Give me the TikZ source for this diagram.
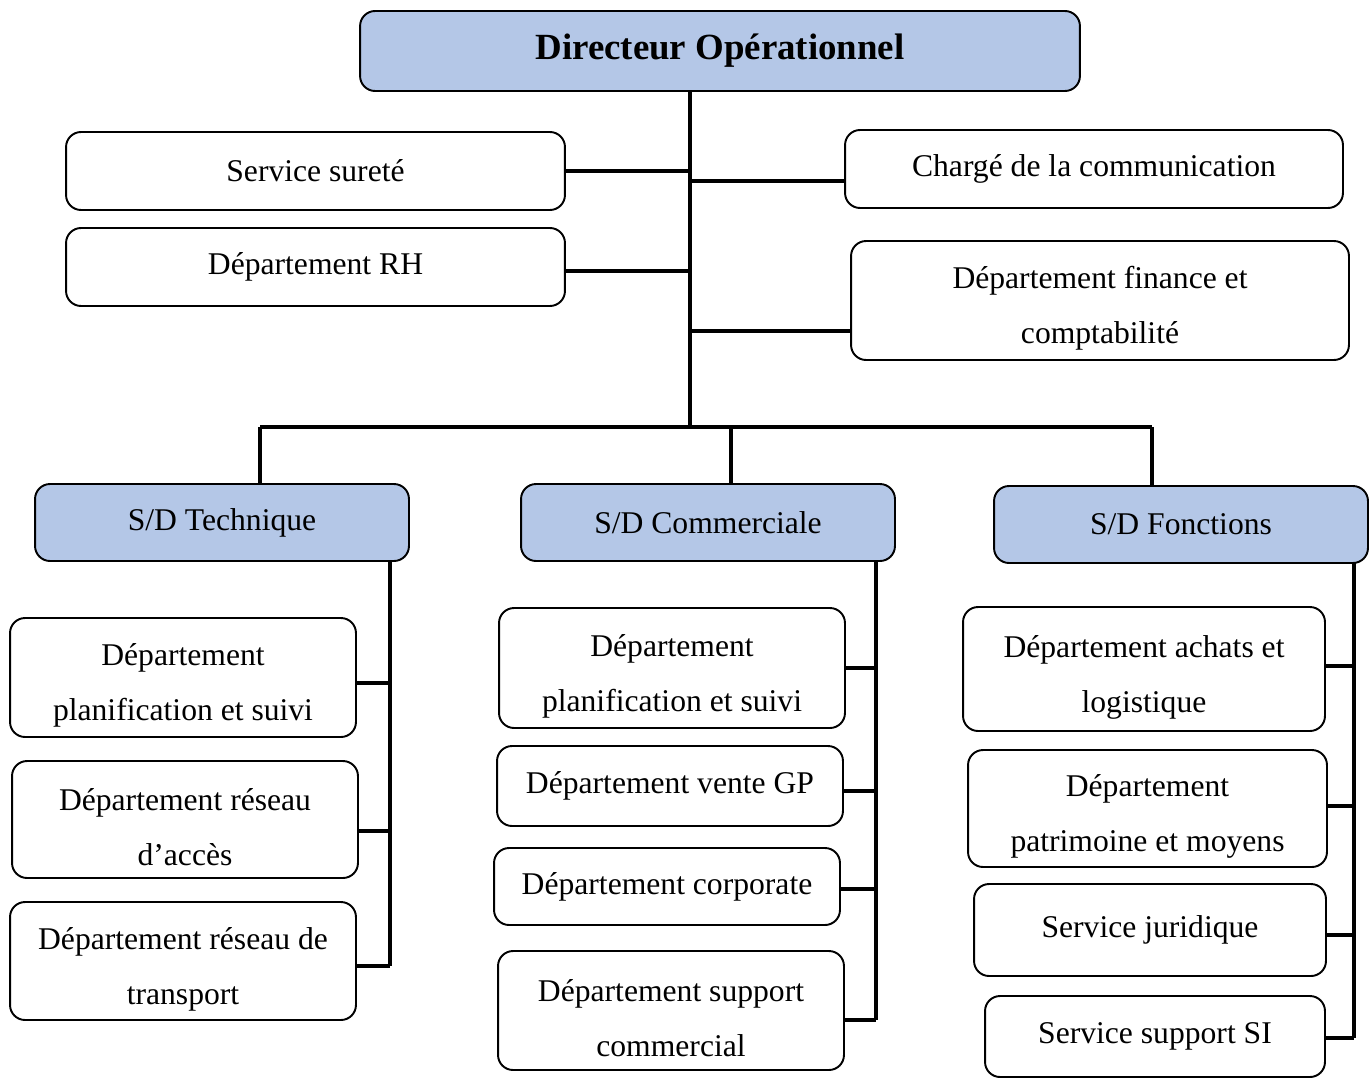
\documentclass[tikz,border=0pt]{standalone}
\usepackage{fontspec}
\setmainfont{Liberation Serif}
\definecolor{HeadBlue}{RGB}{180,199,231}
\tikzset{
  box/.style={draw, line width=1.1pt, rounded corners=0.3cm, inner sep=0pt, align=center,
    font=\fontsize{18}{31.3}\selectfont},
  twoline/.style={box, text height=1.86cm},
  headbox/.style={box, fill=HeadBlue},
  conn/.style={line width=2.2pt}
}

\begin{document}
\begin{tikzpicture}[x=0.02cm, y=-0.02cm]
  \useasboundingbox (0,0) rectangle (1372,1079);
  % direction
  \node[headbox, minimum width=14.4cm, minimum height=1.6cm, font=\fontsize{21}{25}\selectfont\bfseries] (dir) at (720,51) {Directeur Opérationnel};
  \node[box, minimum width=9.98cm, minimum height=1.56cm] (sur) at (315.5,171) {Service sureté};
  \node[box, minimum width=9.98cm, minimum height=1.56cm] (rh) at (315.5,267) {Département RH};
  \node[box, minimum width=9.96cm, minimum height=1.56cm] (com) at (1094,169) {Chargé de la communication};
  \node[twoline, minimum width=9.96cm, minimum height=2.38cm] (fin) at (1100,300.5) {Département finance et\\comptabilité};
  \coordinate (trunk) at (690,91);
  \coordinate (bus) at (690,427);
  \draw[conn] (trunk) -- (bus);
  \draw[conn] (sur.east) -- (sur.east -| trunk);
  \draw[conn] ([yshift=-0.08cm]rh.east) -- ([yshift=-0.08cm]rh.east -| trunk);
  \draw[conn] ([yshift=-0.24cm]com.west) -- ([yshift=-0.24cm]com.west -| trunk);
  \draw[conn] ([yshift=-0.61cm]fin.west) -- ([yshift=-0.61cm]fin.west -| trunk);

  % sous-directions
  \node[headbox, minimum width=7.48cm, minimum height=1.54cm] (tech) at (222,522.5) {S/D Technique};
  \node[headbox, minimum width=7.48cm, minimum height=1.54cm] (comm) at (708,522.5) {S/D Commerciale};
  \node[headbox, minimum width=7.48cm, minimum height=1.54cm] (fct) at (1181,524.5) {S/D Fonctions};
  \coordinate (busT) at (260,427);
  \coordinate (busC) at (731,427);
  \coordinate (busF) at (1152,427);
  \draw[conn] (busT) -- (busF);
  \draw[conn] (busT) -- (busT |- tech.north);
  \draw[conn] (busC) -- (busC |- comm.north);
  \draw[conn] (busF) -- (busF |- fct.north);

  % S/D Technique
  \node[twoline, minimum width=6.92cm, minimum height=2.38cm] (t1) at (183,677.5) {Département\\planification et suivi};
  \node[twoline, minimum width=6.92cm, minimum height=2.34cm] (t2) at (185,819.5) {Département réseau\\d’accès};
  \node[twoline, minimum width=6.92cm, minimum height=2.36cm] (t3) at (183,961) {Département réseau de\\transport};
  \coordinate (spT) at (390,561);
  \draw[conn] (spT) -- ([yshift=-0.1cm]t3.east -| spT);
  \draw[conn] ([yshift=-0.11cm]t1.east) -- ([yshift=-0.11cm]t1.east -| spT);
  \draw[conn] ([yshift=-0.23cm]t2.east) -- ([yshift=-0.23cm]t2.east -| spT);
  \draw[conn] ([yshift=-0.1cm]t3.east) -- ([yshift=-0.1cm]t3.east -| spT);

  % S/D Commerciale
  \node[twoline, minimum width=6.92cm, minimum height=2.4cm] (c1) at (672,668) {Département\\planification et suivi};
  \node[box, minimum width=6.92cm, minimum height=1.6cm] (c2) at (670,786) {Département vente GP};
  \node[box, minimum width=6.92cm, minimum height=1.54cm] (c3) at (667,886.5) {Département corporate};
  \node[twoline, minimum width=6.92cm, minimum height=2.38cm] (c4) at (671,1010.5) {Département support\\commercial};
  \coordinate (spC) at (876,561);
  \draw[conn] (spC) -- ([yshift=-0.19cm]c4.east -| spC);
  \draw[conn] (c1.east) -- (c1.east -| spC);
  \draw[conn] ([yshift=-0.1cm]c2.east) -- ([yshift=-0.1cm]c2.east -| spC);
  \draw[conn] ([yshift=-0.05cm]c3.east) -- ([yshift=-0.05cm]c3.east -| spC);
  \draw[conn] ([yshift=-0.19cm]c4.east) -- ([yshift=-0.19cm]c4.east -| spC);

  % S/D Fonctions
  \node[twoline, minimum width=7.24cm, minimum height=2.48cm] (f1) at (1144,669) {Département achats et\\logistique};
  \node[twoline, minimum width=7.18cm, minimum height=2.34cm] (f2) at (1147.5,808.5) {Département\\patrimoine et moyens};
  \node[box, minimum width=7.04cm, minimum height=1.84cm] (f3) at (1150,930) {Service juridique};
  \node[box, minimum width=6.8cm, minimum height=1.62cm] (f4) at (1155,1036.5) {Service support SI};
  \coordinate (spF) at (1354,563);
  \draw[conn] (spF) -- ([yshift=-0.03cm]f4.east -| spF);
  \draw[conn] ([yshift=0.06cm]f1.east) -- ([yshift=0.06cm]f1.east -| spF);
  \draw[conn] ([yshift=0.05cm]f2.east) -- ([yshift=0.05cm]f2.east -| spF);
  \draw[conn] ([yshift=-0.1cm]f3.east) -- ([yshift=-0.1cm]f3.east -| spF);
  \draw[conn] ([yshift=-0.03cm]f4.east) -- ([yshift=-0.03cm]f4.east -| spF);
\end{tikzpicture}
\end{document}
